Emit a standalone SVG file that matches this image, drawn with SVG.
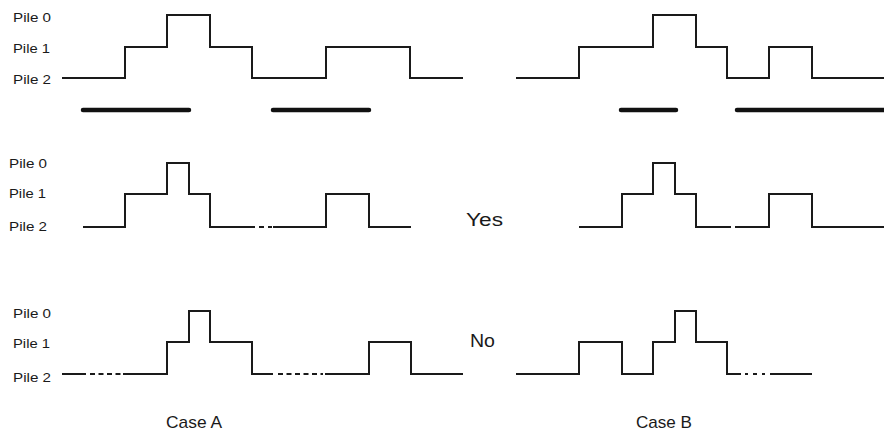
<svg xmlns="http://www.w3.org/2000/svg" width="884" height="431" viewBox="0 0 884 431">
<style>
.w{fill:none;stroke:#1a1a1a;stroke-width:2;stroke-linejoin:miter}
.d{fill:none;stroke:#1a1a1a;stroke-width:2;stroke-dasharray:5 3.5}
.bar{fill:none;stroke:#111;stroke-width:4.5;stroke-linecap:round}
.lab{font-family:"Liberation Sans",Arial,sans-serif;font-size:13px;fill:#1a1a1a}
.big{font-family:"Liberation Sans",Arial,sans-serif;font-size:18px;fill:#1a1a1a}
.case{font-family:"Liberation Sans",Arial,sans-serif;font-size:17px;fill:#1a1a1a}
</style>
<rect width="884" height="431" fill="#fff"/>
<g id="labels-row1">
<text class="lab" x="13" y="22" textLength="38" lengthAdjust="spacingAndGlyphs">Pile 0</text>
<text class="lab" x="13" y="53" textLength="37" lengthAdjust="spacingAndGlyphs">Pile 1</text>
<text class="lab" x="13" y="84" textLength="38" lengthAdjust="spacingAndGlyphs">Pile 2</text>
</g>
<g id="labels-row2">
<text class="lab" x="9" y="168" textLength="38" lengthAdjust="spacingAndGlyphs">Pile 0</text>
<text class="lab" x="9" y="198" textLength="37" lengthAdjust="spacingAndGlyphs">Pile 1</text>
<text class="lab" x="9" y="231" textLength="38" lengthAdjust="spacingAndGlyphs">Pile 2</text>
</g>
<g id="labels-row3">
<text class="lab" x="13" y="318" textLength="38" lengthAdjust="spacingAndGlyphs">Pile 0</text>
<text class="lab" x="13" y="348" textLength="37" lengthAdjust="spacingAndGlyphs">Pile 1</text>
<text class="lab" x="13" y="382" textLength="38" lengthAdjust="spacingAndGlyphs">Pile 2</text>
</g>
<g id="verdicts">
<text class="big" x="466" y="226" textLength="37" lengthAdjust="spacingAndGlyphs">Yes</text>
<text class="big" x="470" y="347" textLength="25" lengthAdjust="spacingAndGlyphs">No</text>
</g>
<g id="cases">
<text class="case" x="166" y="428" textLength="56" lengthAdjust="spacingAndGlyphs">Case A</text>
<text class="case" x="636" y="428" textLength="56" lengthAdjust="spacingAndGlyphs">Case B</text>
</g>
<g id="waves">
<path class="w" d="M62 78H125V47H167V15H210V47H252V78H326V47H410V78H463"/>
<path class="w" d="M516 78H579V47H653V15H696V47H727V78H769V47H812V78H884"/>
<path class="bar" d="M83 110H189M273 110H369M621 110H676M737 110H884"/>
<path class="w" d="M83 227H125V194H167V163H189V194H210V227H255M259 227H264M268 227H272M273 227H326V194H369V227H411"/>
<path class="w" d="M579 227H622V194H653V163H675V194H696V227H731M735 227H769V194H812V227H884"/>
<path class="w" d="M62 374H86M123 374H167V342H189V311H210V342H252V374H273M325 374H369V342H411V374H463"/>
<path class="d" d="M90 374H121M278 374H323"/>
<path class="w" d="M516 374H579V342H622V374H653V342H675V311H696V342H727V374H741M745 374H748M753 374H757M762 374H765M770 374H812"/>
</g>
</svg>
